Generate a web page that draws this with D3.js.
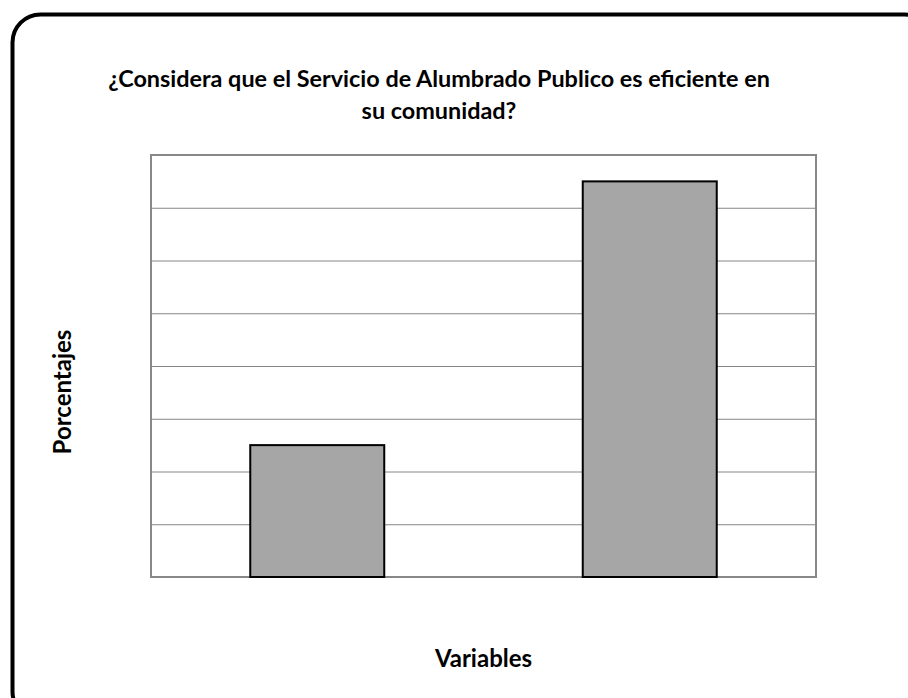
<!DOCTYPE html>
<meta charset="utf-8">
<title>Alumbrado Publico</title>
<style>
body { margin: 0; background: #fff; }
svg { display: block; font-family: Lato, "Open Sans", sans-serif; }
.grid line { stroke: #868686; stroke-width: 1px; }
.grid path { display: none; }
.bar { fill: #a6a6a6; stroke: #000; stroke-width: 2px; }
.frame { fill: none; stroke: #888; stroke-width: 2px; }
.title, .axis-title { font-weight: bold; fill: #000; }
</style>
<svg id="chart" width="908" height="698"></svg>
<script src="https://d3js.org/d3.v7.min.js"></script>
<script>
// data
const categories = ["Si", "No"];
const values = [25, 75];
const yTicks = [0, 10, 20, 30, 40, 50, 60, 70, 80];
const titleLines = ["¿Considera que el Servicio de Alumbrado Publico es eficiente en", "su comunidad?"];

let svg = d3.select("#chart"),
    plot = {left: 151, top: 155, right: 816, bottom: 577};

// outer rounded border, runs off the right and bottom edge
svg.append("rect")
    .attr("x", 12.5).attr("y", 14.5)
    .attr("width", 920).attr("height", 705)
    .attr("rx", 28).attr("ry", 28)
    .attr("fill", "#fff")
    .attr("stroke", "#000")
    .attr("stroke-width", 4);

let x = d3.scaleBand()
    .domain(categories)
    .range([plot.left, plot.right])
    .paddingInner(0.597)
    .paddingOuter(0.2985);

let y = d3.scaleLinear()
    .domain([0, d3.max(yTicks)])
    .range([plot.bottom, plot.top]);

// gridlines
svg.append("g")
    .attr("class", "grid")
    .attr("transform", "translate(" + plot.left + ",0)")
    .call(d3.axisLeft(y).tickValues(yTicks).tickSize(-(plot.right - plot.left)).tickFormat(""));

svg.append("rect")
    .attr("class", "frame")
    .attr("x", plot.left).attr("y", plot.top)
    .attr("width", plot.right - plot.left)
    .attr("height", plot.bottom - plot.top);

svg.selectAll(".bar")
  .data(values)
  .enter().append("rect")
    .attr("class", "bar")
    .attr("x", (d, i) => x(categories[i]))
    .attr("y", d => y(d))
    .attr("width", x.bandwidth())
    .attr("height", d => y(0) - y(d));

// title
svg.append("text")
    .attr("class", "title")
    .attr("text-anchor", "middle")
    .style("font-size", "23.4px")
  .selectAll("tspan")
  .data(titleLines)
  .enter().append("tspan")
    .attr("x", 439)
    .attr("y", (d, i) => 87 + i * 32)
    .text(d => d);

svg.append("text")
    .attr("class", "axis-title")
    .attr("text-anchor", "middle")
    .attr("x", (plot.left + plot.right) / 2)
    .attr("y", 667)
    .style("font-size", "24px")
    .text("Variables");

svg.append("text")
    .attr("class", "axis-title")
    .attr("text-anchor", "middle")
    .attr("transform", "translate(71,392) rotate(-90)")
    .style("font-size", "24px")
    .text("Porcentajes");
</script>
